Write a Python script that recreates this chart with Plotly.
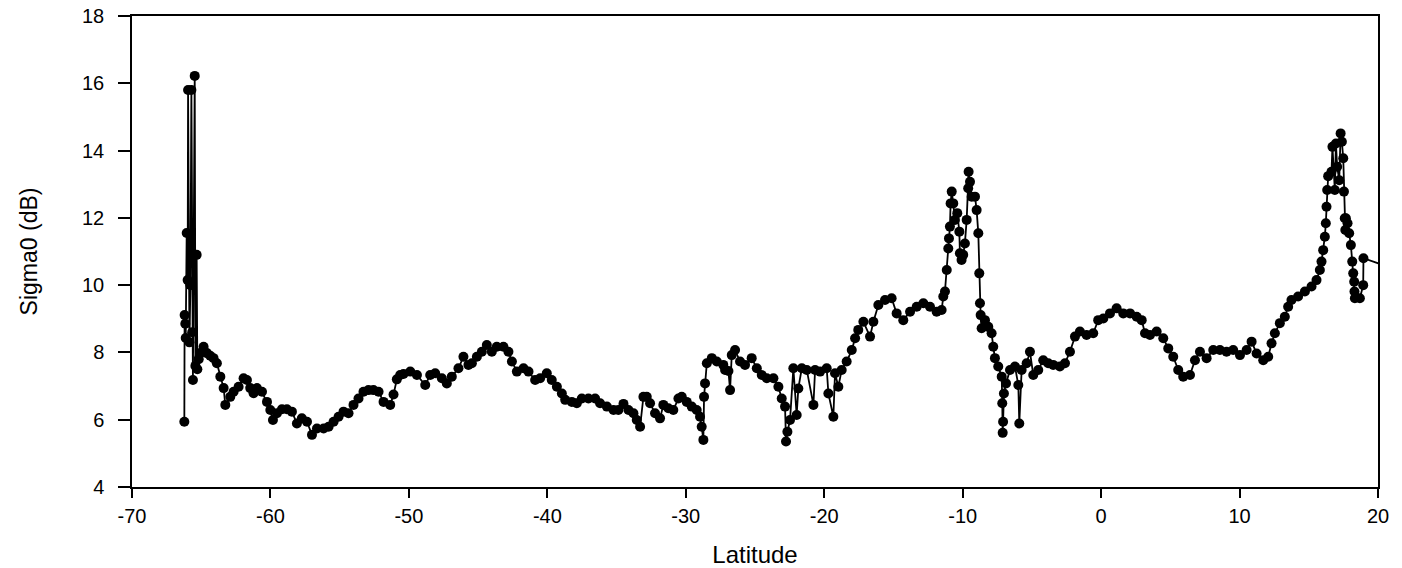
import plotly.graph_objects as go

latitude = [
    -66.22, -66.20, -66.15, -66.12, -66.05, -65.98, -65.95, -65.85, -65.78, -65.71,
    -65.65, -65.60, -65.47, -65.42, -65.33, -65.28, -65.18,
    -65.07, -64.83, -64.59, -64.35, -64.11, -63.87, -63.62, -63.38, -63.26, -62.90,
    -62.66, -62.30, -61.94, -61.70, -61.46, -61.22, -60.98, -60.61, -60.25, -60.01,
    -59.82, -59.53, -59.17, -58.81, -58.45, -58.09, -57.73, -57.36, -57.00, -56.64,
    -56.16, -55.80, -55.44, -55.08, -54.72, -54.36, -54.00, -53.64, -53.28, -52.92,
    -52.56, -52.19, -51.83, -51.35, -51.11, -50.87, -50.63, -50.39, -49.90, -49.42,
    -48.82, -48.46, -48.10, -47.62, -47.26, -46.90, -46.42, -46.06, -45.70, -45.45,
    -45.09, -44.73, -44.37, -44.01, -43.65, -43.17, -42.81, -42.56, -42.20, -41.72,
    -41.36, -40.88, -40.52, -40.04, -39.68, -39.31, -38.95, -38.71, -38.23, -37.87,
    -37.51, -37.03, -36.55, -36.19, -35.70, -35.22, -34.87, -34.50, -34.14, -33.78,
    -33.54, -33.30, -33.06, -32.82, -32.58, -32.22, -31.86, -31.62, -31.26, -30.90,
    -30.53, -30.29, -29.93, -29.57, -29.21, -28.97, -28.85, -28.73, -28.68, -28.61,
    -28.48, -28.12, -27.76, -27.29, -27.16, -26.92, -26.80, -26.68, -26.44, -26.08,
    -25.72, -25.24, -24.87, -24.51, -24.15, -23.67, -23.31, -23.07, -22.83, -22.76,
    -22.66, -22.47, -22.23, -21.99, -21.87, -21.62, -21.26, -20.78, -20.66, -20.30,
    -19.82, -19.70, -19.34, -19.22, -18.98, -18.74, -18.38, -18.01, -17.77, -17.54,
    -17.17, -16.69, -16.45, -16.09, -15.61, -15.13, -14.77, -14.29, -13.80, -13.32,
    -12.84, -12.36, -11.88, -11.52, -11.40, -11.28, -11.15, -11.04, -10.99, -10.92,
    -10.87, -10.79, -10.68, -10.56, -10.39, -10.24, -10.20, -10.08, -9.96, -9.84,
    -9.71, -9.60, -9.57, -9.47, -9.35, -9.11, -8.99, -8.87, -8.80, -8.75,
    -8.70, -8.63, -8.39, -8.15, -7.91, -7.79, -7.67, -7.43, -7.18, -7.14,
    -7.11, -7.08, -7.02, -6.87, -6.58, -6.22, -5.98, -5.91, -5.74, -5.38,
    -5.14, -4.90, -4.54, -4.18, -3.82, -3.46, -2.98, -2.61, -2.25, -1.89,
    -1.53, -1.05, -0.57, -0.21, 0.16, 0.64, 1.12, 1.60, 2.09, 2.57,
    2.93, 3.17, 3.53, 4.01, 4.49, 4.85, 5.21, 5.57, 5.93, 6.42,
    6.78, 7.14, 7.62, 8.10, 8.58, 9.06, 9.54, 10.03, 10.51, 10.87,
    11.23, 11.71, 12.07, 12.31, 12.55, 12.91, 13.27, 13.51, 13.75, 14.23,
    14.72, 15.20, 15.56, 15.80, 15.92, 16.04, 16.16, 16.23, 16.28, 16.33,
    16.40, 16.64, 16.71, 16.88, 16.96, 17.05, 17.20, 17.30, 17.39, 17.49,
    17.54, 17.60, 17.64, 17.68, 17.80, 17.92, 18.04, 18.14, 18.21, 18.28,
    18.30, 18.33, 18.69, 18.93, 18.95, 21.00,
]

sigma0 = [
    5.94, 9.11, 8.85, 8.43, 11.55, 10.15, 15.80, 8.30, 10.00, 15.80,
    8.60, 7.18, 16.22, 7.60, 10.90, 7.50, 7.80,
    7.98, 8.17, 7.98, 7.90, 7.83, 7.68, 7.28, 6.94, 6.44, 6.68,
    6.83, 6.98, 7.23, 7.18, 6.94, 6.79, 6.94, 6.83, 6.53, 6.29,
    5.99, 6.19, 6.31, 6.31, 6.24, 5.89, 6.04, 5.94, 5.55, 5.74,
    5.74, 5.79, 5.94, 6.09, 6.24, 6.19, 6.44, 6.63, 6.83, 6.88,
    6.88, 6.83, 6.53, 6.44, 6.75, 7.20, 7.33, 7.36, 7.43, 7.33,
    7.03, 7.33, 7.38, 7.23, 7.08, 7.28, 7.53, 7.87, 7.63, 7.68,
    7.87, 8.02, 8.22, 8.02, 8.17, 8.17, 8.02, 7.73, 7.43, 7.53,
    7.43, 7.18, 7.23, 7.38, 7.18, 6.98, 6.78, 6.59, 6.53, 6.49,
    6.63, 6.63, 6.63, 6.49, 6.39, 6.29, 6.29, 6.47, 6.29, 6.19,
    5.99, 5.79, 6.68, 6.68, 6.49, 6.19, 6.04, 6.44, 6.34, 6.29,
    6.63, 6.68, 6.53, 6.39, 6.29, 6.09, 5.79, 5.40, 6.68, 7.08,
    7.68, 7.83, 7.73, 7.63, 7.48, 7.45, 6.88, 7.92, 8.07, 7.73,
    7.63, 7.83, 7.53, 7.33, 7.23, 7.23, 6.98, 6.63, 6.39, 5.35,
    5.64, 5.99, 7.53, 6.14, 6.93, 7.53, 7.48, 6.44, 7.48, 7.43,
    7.53, 6.78, 6.09, 7.38, 6.98, 7.48, 7.73, 8.07, 8.42, 8.67,
    8.91, 8.47, 8.91, 9.41, 9.56, 9.61, 9.16, 8.96, 9.21, 9.36,
    9.46, 9.36, 9.21, 9.26, 9.66, 9.81, 10.45, 11.09, 11.39, 11.74,
    12.43, 12.78, 12.43, 11.94, 12.14, 11.59, 10.95, 10.75, 10.90, 11.24,
    11.94, 12.88, 13.37, 13.07, 12.63, 12.63, 12.23, 11.54, 10.35, 9.46,
    9.11, 8.72, 8.96, 8.76, 8.57, 8.17, 7.83, 7.58, 7.28, 6.49,
    5.61, 5.94, 6.78, 7.08, 7.48, 7.58, 7.03, 5.89, 7.48, 7.68,
    8.02, 7.33, 7.48, 7.77, 7.68, 7.63, 7.58, 7.68, 8.02, 8.47,
    8.62, 8.52, 8.57, 8.96, 9.01, 9.16, 9.31, 9.16, 9.16, 9.06,
    8.96, 8.57, 8.52, 8.62, 8.42, 8.12, 7.87, 7.48, 7.28, 7.33,
    7.77, 8.02, 7.83, 8.07, 8.07, 8.02, 8.07, 7.92, 8.07, 8.32,
    7.97, 7.77, 7.87, 8.27, 8.57, 8.87, 9.06, 9.36, 9.56, 9.66,
    9.81, 9.96, 10.15, 10.45, 10.70, 11.04, 11.44, 11.84, 12.33, 12.83,
    13.24, 13.37, 14.11, 12.83, 14.21, 13.52, 13.12, 14.51, 14.26, 13.77,
    12.78, 11.99, 11.64, 11.99, 11.84, 11.54, 11.19, 10.70, 10.35, 10.10,
    9.81, 9.61, 9.61, 10.00, 10.80, 10.51,
]

x_tick_values = [-70, -60, -50, -40, -30, -20, -10, 0, 10, 20]
x_tick_labels = ["-70", "-60", "-50", "-40", "-30", "-20", "-10", "0", "10", "20"]
y_tick_values = [4, 6, 8, 10, 12, 14, 16, 18]
y_tick_labels = ["4", "6", "8", "10", "12", "14", "16", "18"]

FONT = "Liberation Sans, Arial, sans-serif"

fig = go.Figure()
fig.add_trace(go.Scatter(
    x=latitude, y=sigma0,
    mode="lines+markers",
    line=dict(color="black", width=1.8),
    marker=dict(color="black", size=10, symbol="circle"),
    showlegend=False,
))

axis_common = dict(
    showline=True, linecolor="black", linewidth=1.5, mirror=True,
    ticks="outside", tickwidth=1.5, tickcolor="black",
    showgrid=False, zeroline=False, automargin=False,
    ticklabeloverflow="allow",
    tickfont=dict(family=FONT, size=20, color="black"),
)

fig.update_xaxes(
    range=[-70, 20], tickvals=x_tick_values, ticktext=x_tick_labels,
    ticklen=9, ticklabelstandoff=1,
    title=dict(text="Latitude", font=dict(family=FONT, size=24, color="black"), standoff=24),
    **axis_common,
)
fig.update_yaxes(
    range=[4, 18], tickvals=y_tick_values, ticktext=y_tick_labels,
    ticklen=12, ticklabelstandoff=10,
    title=dict(text="Sigma0 (dB)", font=dict(family=FONT, size=23, color="black"), standoff=38),
    **axis_common,
)

# the page body has an 8px margin, so the figure is sized to fit the window
fig.update_layout(
    width=1394, height=560,
    margin=dict(l=124, r=24, t=8, b=81),
    plot_bgcolor="white", paper_bgcolor="white",
)

fig.write_html("out.html")
